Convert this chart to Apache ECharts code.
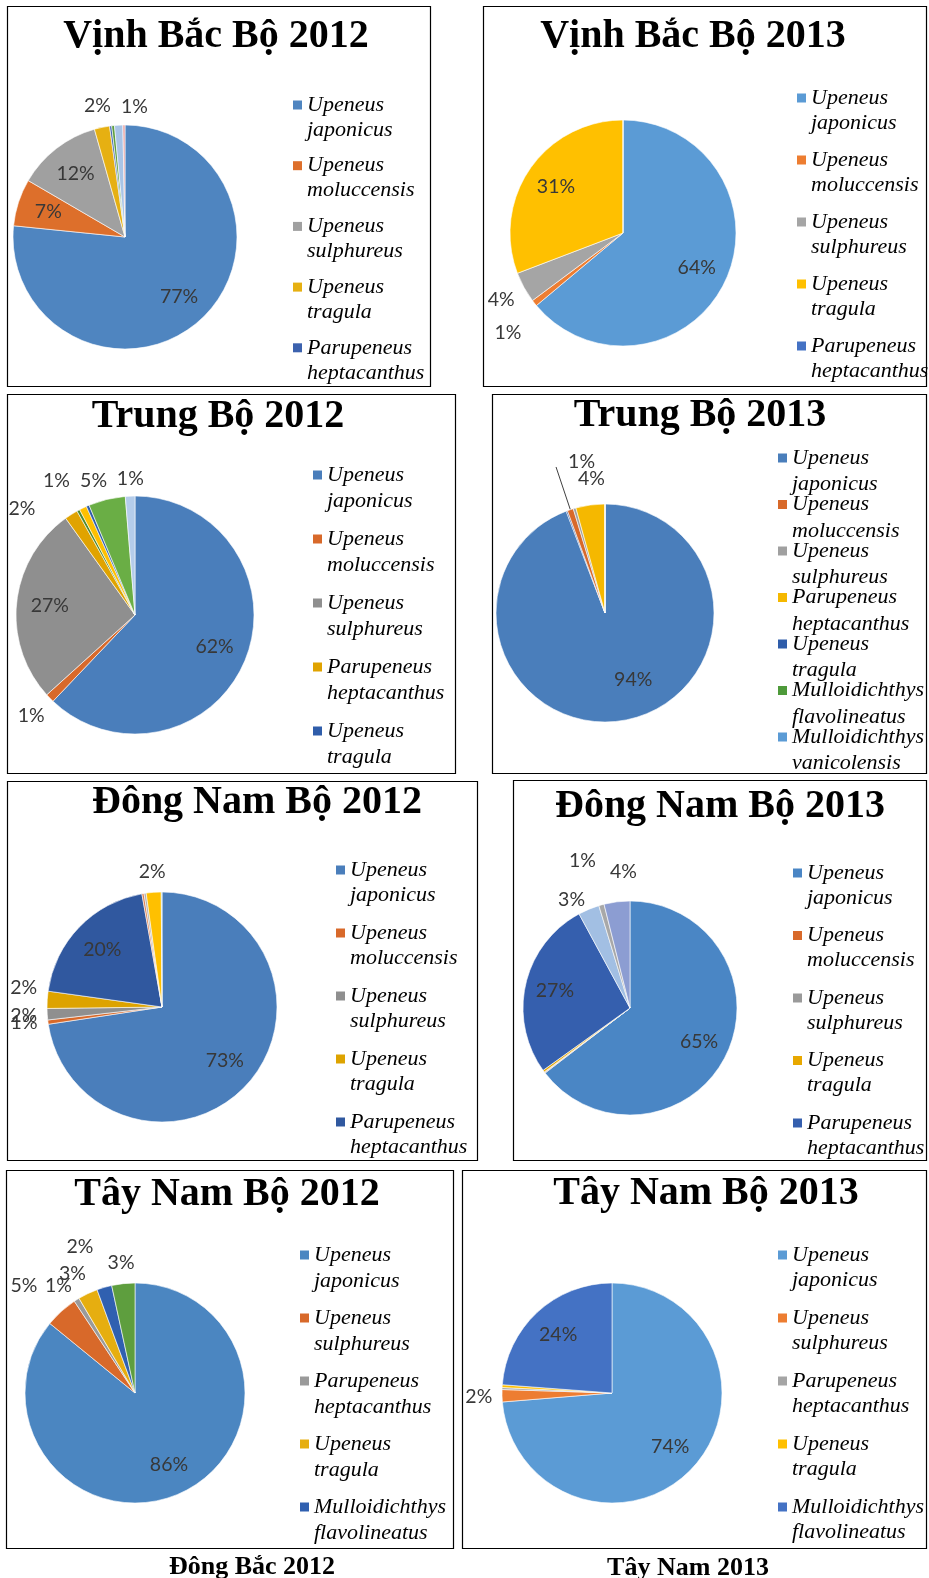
<!DOCTYPE html>
<html>
<head>
<meta charset="utf-8">
<script src="https://cdn.jsdelivr.net/npm/echarts@6/dist/echarts.min.js"></script>
<style>
html,body{margin:0;padding:0;background:#fff;}
#chart{width:929px;height:1578px;}
</style>
</head>
<body>
<div id="chart"></div>
<script>
// ---------------- DATA ----------------
const TITLES = ['Vịnh Bắc Bộ 2012', 'Vịnh Bắc Bộ 2013', 'Trung Bộ 2012', 'Trung Bộ 2013',
                'Đông Nam Bộ 2012', 'Đông Nam Bộ 2013', 'Tây Nam Bộ 2012', 'Tây Nam Bộ 2013'];
const CAPTIONS = ['Đông Bắc 2012', 'Tây Nam 2013'];

// slices in clockwise order from 12 o'clock; values in %
const vbb2012Species = ['Upeneus japonicus', 'Upeneus moluccensis', 'Upeneus sulphureus', 'Upeneus tragula',
  'Parupeneus heptacanthus', 'Loài khác 1', 'Loài khác 2', 'Loài khác 3'];
const vbb2012Values = [76.6, 6.8, 12.2, 2.2, 0.3, 0.4, 1.2, 0.3];
const vbb2012Legend = ['Upeneus japonicus', 'Upeneus moluccensis', 'Upeneus sulphureus', 'Upeneus tragula', 'Parupeneus heptacanthus'];

const vbb2013Species = ['Upeneus japonicus', 'Upeneus moluccensis', 'Upeneus sulphureus', 'Upeneus tragula', 'Parupeneus heptacanthus'];
const vbb2013Values = [63.9, 0.9, 4.4, 30.8, 0];
const vbb2013Legend = ['Upeneus japonicus', 'Upeneus moluccensis', 'Upeneus sulphureus', 'Upeneus tragula', 'Parupeneus heptacanthus'];

const tb2012Species = ['Upeneus japonicus', 'Upeneus moluccensis', 'Upeneus sulphureus', 'Parupeneus heptacanthus',
  'Mulloidichthys flavolineatus', 'Loài khác 1', 'Upeneus tragula', 'Loài khác 2', 'Mulloidichthys vanicolensis'];
const tb2012Values = [62.1, 1.2, 26.8, 1.8, 0.4, 1.0, 0.4, 5.0, 1.3];
const tb2012Legend = ['Upeneus japonicus', 'Upeneus moluccensis', 'Upeneus sulphureus', 'Parupeneus heptacanthus', 'Upeneus tragula'];

const tb2013Species = ['Upeneus japonicus', 'Upeneus tragula', 'Upeneus moluccensis', 'Upeneus sulphureus',
  'Parupeneus heptacanthus', 'Mulloidichthys flavolineatus', 'Mulloidichthys vanicolensis'];
const tb2013Values = [94.2, 0.2, 0.9, 0.4, 4.3, 0, 0];
const tb2013Legend = ['Upeneus japonicus', 'Upeneus moluccensis', 'Upeneus sulphureus', 'Parupeneus heptacanthus',
  'Upeneus tragula', 'Mulloidichthys flavolineatus', 'Mulloidichthys vanicolensis'];

const dnb2012Species = ['Upeneus japonicus', 'Upeneus moluccensis', 'Upeneus sulphureus', 'Upeneus tragula',
  'Parupeneus heptacanthus', 'Loài khác 1', 'Loài khác 2', 'Loài khác 3', 'Loài khác 4'];
const dnb2012Values = [72.6, 0.6, 1.6, 2.4, 20.0, 0.3, 0.3, 2.1, 0.1];
const dnb2012Legend = ['Upeneus japonicus', 'Upeneus moluccensis', 'Upeneus sulphureus', 'Upeneus tragula', 'Parupeneus heptacanthus'];

const dnb2013Species = ['Upeneus japonicus', 'Upeneus moluccensis', 'Upeneus sulphureus', 'Upeneus tragula',
  'Parupeneus heptacanthus', 'Loài khác 1', 'Loài khác 2', 'Loài khác 3'];
const dnb2013Values = [64.6, 0.1, 0.1, 0.3, 27.0, 3.2, 0.8, 3.9];
const dnb2013Legend = ['Upeneus japonicus', 'Upeneus moluccensis', 'Upeneus sulphureus', 'Upeneus tragula', 'Parupeneus heptacanthus'];

const tnb2012Species = ['Upeneus japonicus', 'Upeneus sulphureus', 'Parupeneus heptacanthus', 'Upeneus tragula',
  'Mulloidichthys flavolineatus', 'Loài khác 1'];
const tnb2012Values = [85.9, 4.8, 0.8, 2.9, 2.2, 3.4];
const tnb2012Legend = ['Upeneus japonicus', 'Upeneus sulphureus', 'Parupeneus heptacanthus', 'Upeneus tragula', 'Mulloidichthys flavolineatus'];

const tnb2013Species = ['Upeneus japonicus', 'Upeneus sulphureus', 'Parupeneus heptacanthus', 'Upeneus tragula', 'Mulloidichthys flavolineatus'];
const tnb2013Values = [73.7, 1.8, 0.3, 0.4, 23.8];
const tnb2013Legend = ['Upeneus japonicus', 'Upeneus sulphureus', 'Parupeneus heptacanthus', 'Upeneus tragula', 'Mulloidichthys flavolineatus'];

// ---------------- LAYOUT & STYLE ----------------
const PANELS = [
  { species: vbb2012Species, values: vbb2012Values, legend: vbb2012Legend,
    colors: ['#4F85C0', '#DD6F2B', '#A0A0A0', '#E6B012', '#3C62AE', '#5E9E3E', '#A9C4E6', '#E8A0A0'],
    box: [7, 6, 423, 380], titleAt: [216, 37], center: [125, 237], r: 112,
    lg: { left: 293, y1: 105, pitch: 60.7, lh: 25 }, nudge: { 6: [17, 2] } },
  { species: vbb2013Species, values: vbb2013Values, legend: vbb2013Legend,
    colors: ['#5B9BD5', '#ED7D31', '#A5A5A5', '#FFC000', '#4472C4'],
    box: [483, 6, 443, 380], titleAt: [693, 37], center: [623, 233], r: 113,
    lg: { left: 797, y1: 98, pitch: 62, lh: 25 }, nudge: { 1: [-6, 13] } },
  { species: tb2012Species, values: tb2012Values, legend: tb2012Legend,
    colors: ['#4A7EBB', '#D8692A', '#8F8F8F', '#E0A300', '#4E8A30', '#FFC000', '#2F5DAA', '#6AAE45', '#B4CCEA'],
    box: [7, 394, 448, 379], titleAt: [218, 417], center: [135, 615], r: 119,
    lg: { left: 313, y1: 475, pitch: 64, lh: 26.5 }, nudge: { 3: [-36, 15], 5: [-16, -5], 7: [-8, 3], 8: [1, 3] } },
  { species: tb2013Species, values: tb2013Values, legend: tb2013Legend,
    colors: ['#4A7EBB', '#2F5DAA', '#D8692A', '#A0A0A0', '#F5B800', '#4E9A3A', '#5B9BD5'],
    box: [492, 394, 434, 379], titleAt: [700, 416], center: [605, 613], r: 109,
    lg: { left: 778, y1: 458, pitch: 46.5, lh: 26.5 }, nudge: { 0: [14, -10], 4: [4, -5] },
    leader: { index: 2, length: 45, offset: [44, -5] } },
  { species: dnb2012Species, values: dnb2012Values, legend: dnb2012Legend,
    colors: ['#4A7EBB', '#D8692A', '#8F8F8F', '#DDA300', '#30589F', '#E08050', '#B0B0B0', '#FFC000', '#8FD0C8'],
    box: [7, 781, 470, 379], titleAt: [257, 803], center: [162, 1007], r: 115,
    lg: { left: 336, y1: 870, pitch: 63, lh: 25 }, nudge: { 1: [0, -3], 3: [0, -11] } },
  { species: dnb2013Species, values: dnb2013Values, legend: dnb2013Legend,
    colors: ['#4A86C5', '#D8692A', '#9A9A9A', '#E8A800', '#355FAE', '#A2BFE3', '#A8A8A8', '#8C9DD2'],
    box: [513, 780, 413, 380], titleAt: [720, 807], center: [630, 1008], r: 107,
    lg: { left: 793, y1: 873, pitch: 62.5, lh: 25 }, nudge: { 5: [-8, 12], 6: [-13, -22], 7: [9, -9] } },
  { species: tnb2012Species, values: tnb2012Values, legend: tnb2012Legend,
    colors: ['#4B86C1', '#D8692A', '#9A9A9A', '#E6AE10', '#3060B0', '#5E9E3E'],
    box: [6, 1170, 447, 378], titleAt: [227, 1195], center: [135, 1393], r: 110,
    lg: { left: 300, y1: 1255, pitch: 63, lh: 26 }, nudge: { 1: [-20, -7], 2: [-5, 7], 3: [-5, 2], 4: [-18, -19] } },
  { species: tnb2013Species, values: tnb2013Values, legend: tnb2013Legend,
    colors: ['#5B9BD5', '#ED7D31', '#A5A5A5', '#FFC000', '#4472C4'],
    box: [462, 1170, 464, 378], titleAt: [706, 1194], center: [612, 1393], r: 110,
    lg: { left: 778, y1: 1255, pitch: 63, lh: 25 }, nudge: {} }
];
const CAPTION_AT = [[252, 1567], [688, 1568]];

const LABEL_FONT = 'Lato';
const LABEL_SIZE = 19.5;
const LABEL_COLOR = '#383838';
const SERIF = 'Liberation Serif';

// ---------------- BUILD ----------------
const option = {
  backgroundColor: '#ffffff',
  animation: false,
  title: [],
  legend: [],
  series: [],
  graphic: []
};

function pctText(p) {
  const v = Math.round(p.percent);
  return v > 0 ? v + '%' : '';
}

PANELS.forEach(function (P, k) {
  const key = 'p' + k + '|';
  const total = P.values.reduce(function (a, b) { return a + b; }, 0);
  let cum = 0;
  const data = P.values.map(function (v, i) {
    const mid = (cum + v / 2) / total * 2 * Math.PI;
    cum += v;
    const dx = Math.sin(mid), dy = -Math.cos(mid);
    const pct = Math.round(v / total * 100);
    let dist;
    if (pct >= 6) {
      dist = P.r * 0.72;
    } else {
      dist = P.r + 10 + Math.abs(dx) * 13 + Math.abs(dy) * 9.5;
    }
    const nd = P.nudge[i] || [0, 0];
    const item = {
      name: key + P.species[i],
      value: v,
      itemStyle: { color: P.colors[i] },
      label: { show: pct > 0, position: 'center', offset: [dx * dist + nd[0], dy * dist + nd[1]] }
    };
    if (P.leader && P.leader.index === i) {
      item.label = { show: true, position: 'outside', offset: P.leader.offset };
      item.labelLine = { show: true, length: P.leader.length, length2: 0, smooth: false,
        lineStyle: { color: '#404040', width: 1 } };
    }
    return item;
  });

  option.series.push({
    type: 'pie',
    center: P.center,
    radius: [0, P.r],
    startAngle: 90,
    clockwise: true,
    avoidLabelOverlap: false,
    labelLayout: { hideOverlap: false, moveOverlap: null },
    emphasis: { disabled: true },
    itemStyle: { borderColor: '#ffffff', borderWidth: 0.6 },
    label: { show: true, formatter: pctText, fontFamily: LABEL_FONT, fontSize: LABEL_SIZE, color: LABEL_COLOR },
    labelLine: { show: false },
    data: data
  });

  option.title.push({
    text: TITLES[k],
    left: P.titleAt[0],
    top: P.titleAt[1],
    textAlign: 'center',
    textVerticalAlign: 'middle',
    padding: 0,
    textStyle: { fontFamily: SERIF, fontWeight: 'bold', fontSize: 40, color: '#000' }
  });

  const lh = P.lg.lh;
  option.legend.push({
    orient: 'vertical',
    left: P.lg.left,
    top: P.lg.y1 - 1.5 * lh,
    padding: 0,
    icon: 'rect',
    itemWidth: 9,
    itemHeight: 9,
    itemGap: P.lg.pitch - 3 * lh,
    itemStyle: { borderWidth: 0 },
    data: P.legend.map(function (n) { return key + n; }),
    // blank first line so the colour square sits beside the genus line
    formatter: function (name) {
      const n = name.split('|')[1];
      const s = n.indexOf(' ');
      return ' \n' + n.slice(0, s) + '\n' + n.slice(s + 1);
    },
    textStyle: { fontFamily: SERIF, fontStyle: 'italic', fontSize: 22, lineHeight: lh, color: '#000' }
  });

  option.graphic.push({
    type: 'rect',
    silent: true,
    shape: { x: P.box[0] + 0.5, y: P.box[1] + 0.5, width: P.box[2], height: P.box[3] },
    style: { fill: 'none', stroke: '#000', lineWidth: 1.2 },
    z: 100
  });
});

CAPTIONS.forEach(function (c, i) {
  option.title.push({
    text: c,
    left: CAPTION_AT[i][0],
    top: CAPTION_AT[i][1],
    textAlign: 'center',
    textVerticalAlign: 'middle',
    padding: 0,
    textStyle: { fontFamily: SERIF, fontWeight: 'bold', fontSize: 26, color: '#000' }
  });
});

const chart = echarts.init(document.getElementById('chart'), null, { renderer: 'canvas' });
chart.setOption(option);
</script>
</body>
</html>
